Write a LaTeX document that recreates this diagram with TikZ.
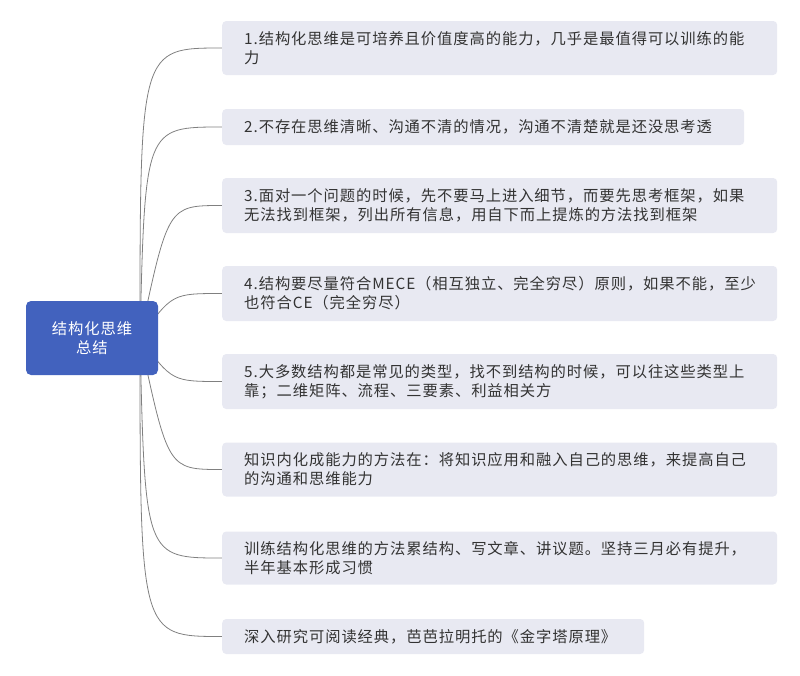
\documentclass[tikz,border=0pt]{standalone}
\usepackage{fontspec}
\newfontfamily\cjk[LetterSpace=6.0]{Noto Sans CJK SC}
\usetikzlibrary{backgrounds}
\definecolor{boxc}{HTML}{E8E9F2}
\definecolor{mainc}{HTML}{4262BE}
\definecolor{txtc}{HTML}{333333}
\definecolor{linec}{HTML}{808080}
\tikzset{
  leaf/.style={fill=boxc, rounded corners=4pt, anchor=west, inner xsep=22pt, inner ysep=0pt,
    align=left, text=txtc, font=\fontsize{15.3}{19}\cjk},
  rootbox/.style={fill=mainc, rounded corners=5pt, inner sep=0pt, align=center, text=white,
    font=\fontsize{15.3}{19}\cjk, minimum width=132pt, minimum height=74pt, text width=132pt},
  conn/.style={draw=linec, line width=0.8pt}
}
\begin{document}
\begin{tikzpicture}[x=1pt,y=-1pt]
\useasboundingbox (0,0) rectangle (800,675);
\node[rootbox] (root) at (92,338) {结构化思维\\总结};
\coordinate (hub) at (140,338);
\node[leaf, minimum height=54pt, text width=511pt] (b1) at (222,48) {1.结构化思维是可培养且价值度高的能力，几乎是最值得可以训练的能\\力};
\node[leaf, minimum height=36pt, text width=478pt] (b2) at (222,127) {2.不存在思维清晰、沟通不清的情况，沟通不清楚就是还没思考透};
\node[leaf, minimum height=55pt, text width=511pt] (b3) at (222,205.5) {3.面对一个问题的时候，先不要马上进入细节，而要先思考框架，如果\\无法找到框架，列出所有信息，用自下而上提炼的方法找到框架};
\node[leaf, minimum height=55pt, text width=511pt] (b4) at (222,293.5) {4.结构要尽量符合MECE（相互独立、完全穷尽）原则，如果不能，至少\\也符合CE（完全穷尽）};
\node[leaf, minimum height=55pt, text width=511pt] (b5) at (222,381.5) {5.大多数结构都是常见的类型，找不到结构的时候，可以往这些类型上\\靠；二维矩阵、流程、三要素、利益相关方};
\node[leaf, minimum height=54pt, text width=511pt] (b6) at (222,469.5) {知识内化成能力的方法在：将知识应用和融入自己的思维，来提高自己\\的沟通和思维能力};
\node[leaf, minimum height=53pt, text width=511pt] (b7) at (222,558) {训练结构化思维的方法累结构、写文章、讲议题。坚持三月必有提升，\\半年基本形成习惯};
\node[leaf, minimum height=35pt, text width=378pt] (b8) at (222,636.5) {深入研究可阅读经典，芭芭拉明托的《金字塔原理》};
\begin{scope}[on background layer]
\foreach \b/\cx in {b1/140,b2/145,b3/168,b4/172,b5/172,b6/168,b7/145,b8/140}{
  \draw[conn] (hub) .. controls (\cx, 0 |- \b.west) .. (\b.west);
}
\end{scope}
\end{tikzpicture}
\end{document}
